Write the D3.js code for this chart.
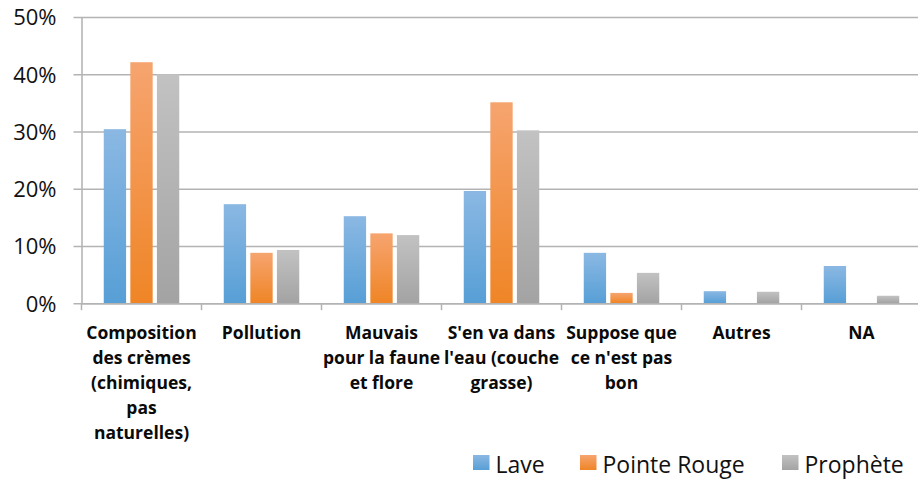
<!DOCTYPE html>
<html>
<head>
<meta charset="utf-8">
<script src="https://cdn.jsdelivr.net/npm/d3@7"></script>
<style>
  body { margin: 0; background: #fff; }
  svg { display: block; }
</style>
</head>
<body>
<div id="chart"></div>
<script>
"use strict";

var categories = ["Composition", "Pollution", "Mauvais", "S'en va", "Suppose", "Autres", "NA"];
var catLabels = [
  ["Composition", "des crèmes", "(chimiques,", "pas", "naturelles)"],
  ["Pollution"],
  ["Mauvais", "pour la faune", "et flore"],
  ["S'en va dans", "l'eau (couche", "grasse)"],
  ["Suppose que", "ce n'est pas", "bon"],
  ["Autres"],
  ["NA"]
];
var seriesNames = ["Lave", "Pointe Rouge", "Prophète"];
var lave = [30.4, 17.3, 15.2, 19.6, 8.8, 2.1, 6.5];
var pointeRouge = [42.1, 8.8, 12.2, 35.1, 1.8, 0, 0];
var prophete = [40.0, 9.3, 11.9, 30.2, 5.3, 2.0, 1.3];
var yTicks = [0, 10, 20, 30, 40, 50];

var seriesValues = [lave, pointeRouge, prophete];
var colors = [["#8bb8e3", "#579fd6"], ["#f6a46f", "#ef8526"], ["#c2c2c2", "#a3a3a3"]];

var W = 918, H = 479;
var margin = { top: 17, right: 0, bottom: 176, left: 81.5 };
var plotRight = 921.5;
var y0 = 303.2;

var svg = d3.select("#chart").append("svg").attr("width", W).attr("height", H);

var defs = svg.append("defs");
colors.forEach(function (c, i) {
  var g = defs.append("linearGradient").attr("id", "grad" + i)
    .attr("x1", 0).attr("y1", 0).attr("x2", 0).attr("y2", 1);
  g.append("stop").attr("offset", "0%").attr("stop-color", c[0]);
  g.append("stop").attr("offset", "100%").attr("stop-color", c[1]);
});

var x = d3.scaleBand().domain(categories).range([margin.left, plotRight]);
var xInner = d3.scaleBand().domain(seriesNames).range([0, 75.5]).paddingInner(0.16);
var y = d3.scaleLinear().domain([0, 50]).range([y0, margin.top]);

// gridlines + y ticks
var yAxis = d3.axisLeft(y).tickValues(yTicks).tickSize(-(plotRight - margin.left)).tickSizeOuter(0)
  .tickFormat(function (d) { return d + "%"; });
var gy = svg.append("g").attr("transform", "translate(" + margin.left + ",0)").call(yAxis);
gy.select(".domain").attr("stroke", "#b0b0b0").attr("stroke-width", 1.5);
gy.selectAll(".tick line").attr("stroke", "#b3b3b3").attr("stroke-width", 1.5).attr("x1", -8);
gy.selectAll(".tick text").attr("x", -25).attr("dy", "0.36em")
  .attr("font-family", "Open Sans").attr("font-size", 22).attr("fill", "#111");

// bars
var groups = svg.append("g").selectAll("g").data(categories).enter().append("g")
  .attr("transform", function (d) { return "translate(" + (x(d) + x.bandwidth() / 2 - 37.75) + ",0)"; });

groups.selectAll("rect").data(function (d, ci) {
  return seriesNames.map(function (s, si) { return { s: s, si: si, v: seriesValues[si][ci] }; });
}).enter().append("rect")
  .filter(function (d) { return d.v > 0; })
  .attr("x", function (d) { return xInner(d.s); })
  .attr("y", function (d) { return y(d.v); })
  .attr("width", xInner.bandwidth())
  .attr("height", function (d) { return y0 - y(d.v); })
  .attr("fill", function (d) { return "url(#grad" + d.si + ")"; });

// x axis
var xAxis = d3.axisBottom(x).tickValues([]).tickSizeOuter(0);
var gx = svg.append("g").attr("transform", "translate(0," + y0 + ")").call(xAxis);
gx.select(".domain").attr("stroke", "#b3b3b3").attr("stroke-width", 1.5);
var bounds = categories.map(function (c) { return x(c); });
gx.selectAll(".sep").data(bounds).enter().append("line")
  .attr("x1", function (d) { return d; }).attr("x2", function (d) { return d; })
  .attr("y1", 0).attr("y2", 7).attr("stroke", "#b3b3b3").attr("stroke-width", 1.5);

// category labels
var labels = svg.append("g").selectAll("text").data(categories).enter().append("text")
  .attr("text-anchor", "middle")
  .attr("font-family", "Open Sans").attr("font-weight", "bold").attr("font-size", 17.5).attr("fill", "#0a0a0a")
  .attr("transform", function (d) { return "translate(" + (x(d) + x.bandwidth() / 2) + ",339)"; });
labels.each(function (d, i) {
  var t = d3.select(this);
  catLabels[i].forEach(function (line, j) {
    t.append("tspan").attr("x", 0).attr("y", j * 25).text(line);
  });
});

// legend (raised a little so the descenders stay inside the picture)
var legendX = [473, 580, 782];
var leg = svg.append("g").selectAll("g").data(seriesNames).enter().append("g")
  .attr("transform", function (d, i) { return "translate(" + legendX[i] + ",455)"; });
leg.append("rect").attr("width", 16.5).attr("height", 15)
  .attr("fill", function (d, i) { return "url(#grad" + i + ")"; });
leg.append("text").attr("x", 22.5).attr("y", 18)
  .attr("font-family", "Open Sans").attr("font-size", 23).attr("fill", "#111")
  .text(function (d) { return d; });
</script>
</body>
</html>
